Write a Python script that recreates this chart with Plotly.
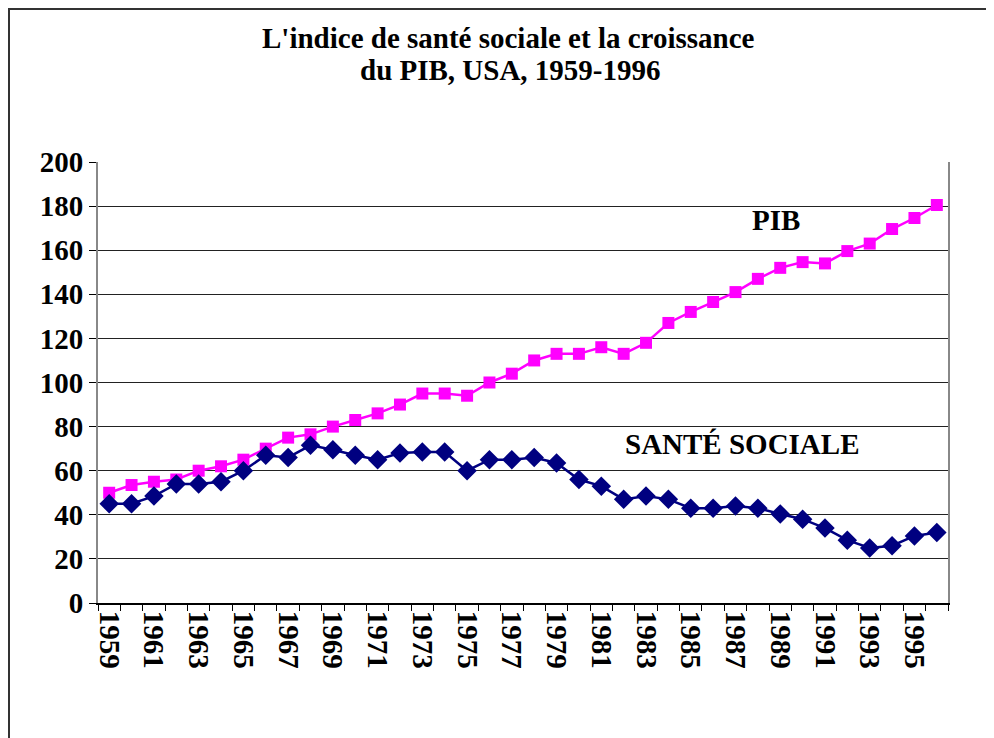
import plotly.graph_objects as go

years = list(range(1959, 1997))
pib = [50, 53.5, 55, 56, 60, 62, 65, 70, 75, 76.5, 80, 83, 86, 90, 95, 95, 94,
       100, 104, 110, 113, 113, 116, 113, 118, 127, 132, 136.5, 141, 147, 152,
       154.6, 154, 159.6, 163, 169.6, 174.6, 180.5]
sante = [45, 45, 48.5, 54, 54, 55, 60, 67, 66, 71.5, 69.5, 67, 65, 68, 68.5, 68.5,
         60, 65, 65, 66, 63.5, 56, 53, 47, 48.5, 47, 43, 43, 44, 43, 40.4, 38, 34,
         28.5, 25, 26, 30.4, 32]
tick_years = list(range(1959, 1996, 2))
tick_labels = [str(y) for y in tick_years]
title_lines = ["L'indice de santé sociale et la croissance", "du PIB, USA, 1959-1996"]

FONT = "Liberation Serif"
L, T, PW, PH = 90, 154, 850, 441
BOT = T + PH


def py(fig_y):
    return (BOT - fig_y) / PH


def px(fig_x):
    return (fig_x - L) / PW


fig = go.Figure()
fig.add_trace(go.Scatter(
    x=years, y=pib, mode="lines+markers", name="PIB",
    line=dict(color="#FF00FF", width=2.5),
    marker=dict(symbol="square", size=12, color="#FF00FF"),
))
fig.add_trace(go.Scatter(
    x=years, y=sante, mode="lines+markers", name="SANTÉ SOCIALE",
    line=dict(color="#000080", width=2.5),
    marker=dict(symbol="diamond", size=15, color="#000080"),
))

bold = dict(family=FONT, color="black", weight="bold")

fig.update_layout(
    width=994, height=738,
    margin=dict(l=L, r=994 - L - PW, t=T, b=738 - T - PH),
    paper_bgcolor="white", plot_bgcolor="white",
    showlegend=False,
    xaxis=dict(
        range=[1958.5, 1996.5],
        tickmode="array", tickvals=tick_years, ticktext=tick_labels,
        tickangle=90, ticks="", showgrid=False,
        tickfont=dict(size=29, **bold),
        showline=True, linecolor="black", linewidth=2,
        minor=dict(tickmode="linear", tick0=1958.5, dtick=1, ticks="outside",
                   ticklen=6, tickcolor="black", tickwidth=1, showgrid=False),
        zeroline=False,
    ),
    yaxis=dict(
        range=[0, 200], tickmode="linear", tick0=0, dtick=20,
        ticks="outside", ticklen=7, tickcolor="black", tickwidth=1,
        showgrid=True, gridcolor="#222222", gridwidth=1,
        showline=True, linecolor="#888888", linewidth=2, mirror=True,
        tickfont=dict(size=29, **bold),
        zeroline=False,
    ),
    annotations=[
        dict(x=px(500), y=py(30), xref="paper", yref="paper", text=title_lines[0],
             showarrow=False, xanchor="center", yanchor="middle",
             font=dict(size=29, **bold)),
        dict(x=px(502), y=py(62), xref="paper", yref="paper", text=title_lines[1],
             showarrow=False, xanchor="center", yanchor="middle",
             font=dict(size=29, **bold)),
        dict(x=1988.8, y=173.7, xref="x", yref="y", text="PIB", showarrow=False,
             font=dict(size=29, **bold)),
        dict(x=1987.3, y=72, xref="x", yref="y", text="SANTÉ SOCIALE", showarrow=False,
             font=dict(size=29, **bold)),
    ],
    shapes=[
        dict(type="rect", xref="paper", yref="paper",
             x0=px(1), x1=1.2, y0=-0.5, y1=py(1),
             line=dict(color="#333333", width=2), fillcolor="rgba(0,0,0,0)",
             layer="below"),
    ],
)

fig.write_html("out.html")
